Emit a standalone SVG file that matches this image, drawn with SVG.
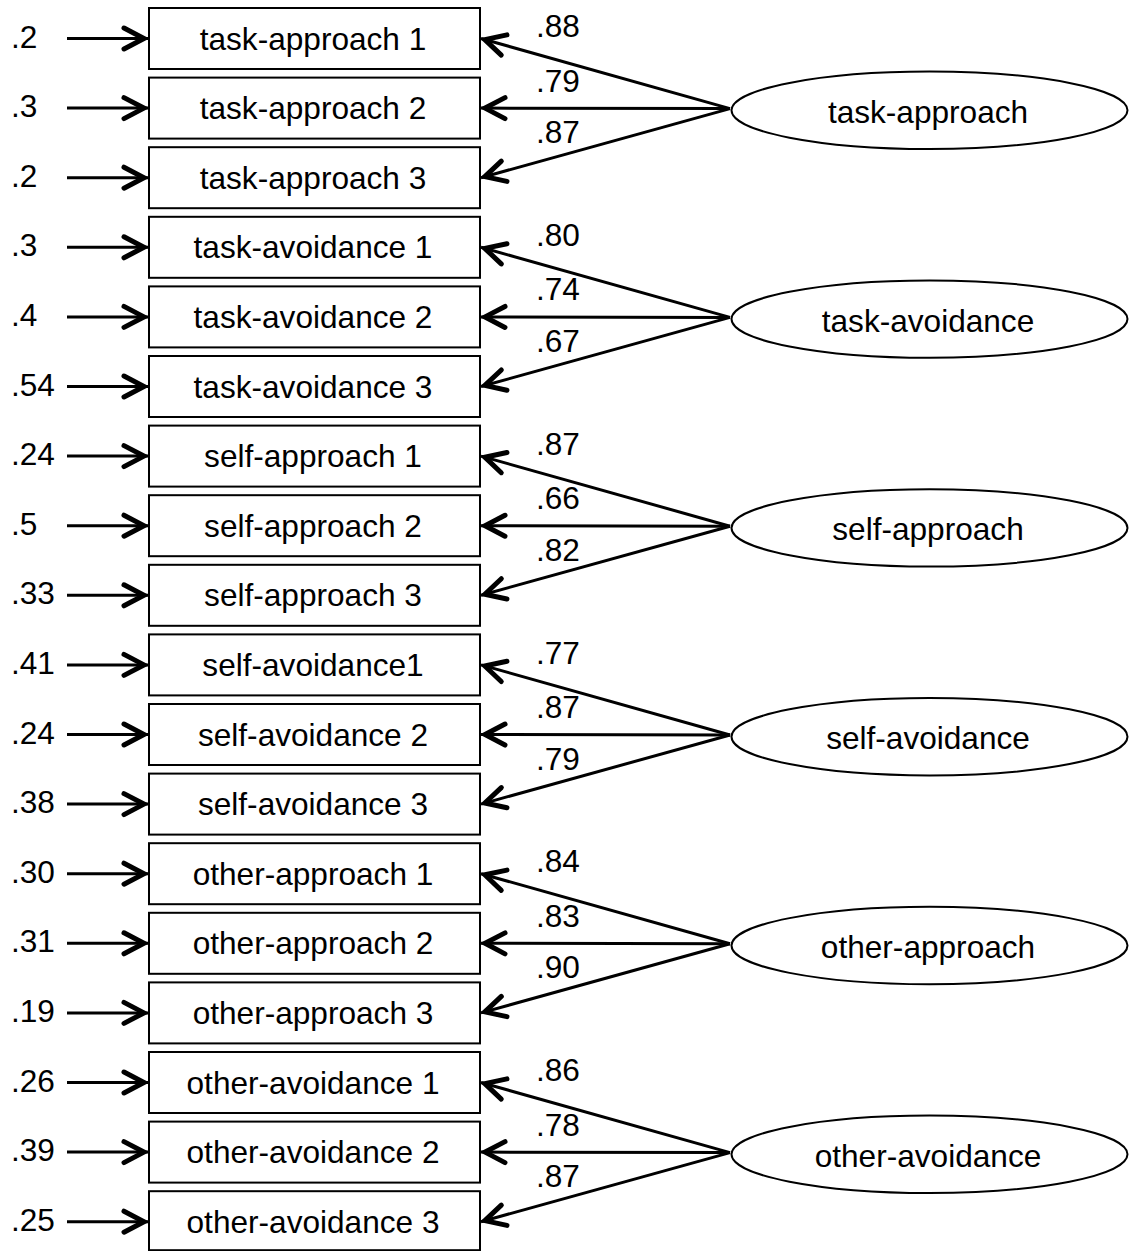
<svg xmlns="http://www.w3.org/2000/svg" width="1130" height="1251" viewBox="0 0 1130 1251">
<defs>
<style>
.box{fill:#fff;stroke:#000;stroke-width:2}
.lat{fill:#fff;stroke:#000;stroke-width:2}
.t{font-family:"Liberation Sans",Arial,sans-serif;font-size:31.6px;fill:#000}
.c{text-anchor:middle}
.conn line{stroke:#000;stroke-width:3;marker-end:url(#ah)}
</style>
<marker id="ah" markerUnits="userSpaceOnUse" viewBox="-26 -16 32 32" refX="4" refY="0" markerWidth="32" markerHeight="32" orient="auto">
<path d="M-20,-10.5 L0,0 L-20,10.5" fill="none" stroke="#000" stroke-width="5" stroke-linecap="round"/>
</marker>
</defs>
<rect width="1130" height="1251" fill="#fff"/>
<g id="connectors" class="conn">
<line x1="67" y1="38.5" x2="148" y2="38.5"/>
<line x1="67" y1="108.1" x2="148" y2="108.1"/>
<line x1="67" y1="177.7" x2="148" y2="177.7"/>
<line x1="67" y1="247.3" x2="148" y2="247.3"/>
<line x1="67" y1="316.9" x2="148" y2="316.9"/>
<line x1="67" y1="386.5" x2="148" y2="386.5"/>
<line x1="67" y1="456.1" x2="148" y2="456.1"/>
<line x1="67" y1="525.7" x2="148" y2="525.7"/>
<line x1="67" y1="595.3" x2="148" y2="595.3"/>
<line x1="67" y1="664.9" x2="148" y2="664.9"/>
<line x1="67" y1="734.5" x2="148" y2="734.5"/>
<line x1="67" y1="804.1" x2="148" y2="804.1"/>
<line x1="67" y1="873.7" x2="148" y2="873.7"/>
<line x1="67" y1="943.3" x2="148" y2="943.3"/>
<line x1="67" y1="1012.9" x2="148" y2="1012.9"/>
<line x1="67" y1="1082.5" x2="148" y2="1082.5"/>
<line x1="67" y1="1152.1" x2="148" y2="1152.1"/>
<line x1="67" y1="1221.7" x2="148" y2="1221.7"/>
<line x1="730" y1="108.6" x2="481" y2="38.5"/>
<line x1="730" y1="108.6" x2="481" y2="108.1"/>
<line x1="730" y1="108.6" x2="481" y2="177.7"/>
<line x1="730" y1="317.4" x2="481" y2="247.3"/>
<line x1="730" y1="317.4" x2="481" y2="316.9"/>
<line x1="730" y1="317.4" x2="481" y2="386.5"/>
<line x1="730" y1="526.2" x2="481" y2="456.1"/>
<line x1="730" y1="526.2" x2="481" y2="525.7"/>
<line x1="730" y1="526.2" x2="481" y2="595.3"/>
<line x1="730" y1="735" x2="481" y2="664.9"/>
<line x1="730" y1="735" x2="481" y2="734.5"/>
<line x1="730" y1="735" x2="481" y2="804.1"/>
<line x1="730" y1="943.8" x2="481" y2="873.7"/>
<line x1="730" y1="943.8" x2="481" y2="943.3"/>
<line x1="730" y1="943.8" x2="481" y2="1012.9"/>
<line x1="730" y1="1152.6" x2="481" y2="1082.5"/>
<line x1="730" y1="1152.6" x2="481" y2="1152.1"/>
<line x1="730" y1="1152.6" x2="481" y2="1221.7"/>
</g>
<g id="error-labels" class="t">
<text x="11" y="47.5">.2</text>
<text x="11" y="117.1">.3</text>
<text x="11" y="186.7">.2</text>
<text x="11" y="256.3">.3</text>
<text x="11" y="325.9">.4</text>
<text x="11" y="395.5">.54</text>
<text x="11" y="465.1">.24</text>
<text x="11" y="534.7">.5</text>
<text x="11" y="604.3">.33</text>
<text x="11" y="673.9">.41</text>
<text x="11" y="743.5">.24</text>
<text x="11" y="813.1">.38</text>
<text x="11" y="882.7">.30</text>
<text x="11" y="952.3">.31</text>
<text x="11" y="1021.9">.19</text>
<text x="11" y="1091.5">.26</text>
<text x="11" y="1161.1">.39</text>
<text x="11" y="1230.7">.25</text>
</g>
<g id="loading-labels" class="t">
<text x="536" y="37.1">.88</text>
<text x="536" y="91.6">.79</text>
<text x="536" y="143.1">.87</text>
<text x="536" y="245.9">.80</text>
<text x="536" y="300.4">.74</text>
<text x="536" y="351.9">.67</text>
<text x="536" y="454.7">.87</text>
<text x="536" y="509.2">.66</text>
<text x="536" y="560.7">.82</text>
<text x="536" y="663.5">.77</text>
<text x="536" y="718">.87</text>
<text x="536" y="769.5">.79</text>
<text x="536" y="872.3">.84</text>
<text x="536" y="926.8">.83</text>
<text x="536" y="978.3">.90</text>
<text x="536" y="1081.1">.86</text>
<text x="536" y="1135.6">.78</text>
<text x="536" y="1187.1">.87</text>
</g>
<g id="ta1"><rect class="box" x="149" y="8" width="331" height="61"/><text class="t c" x="313" y="49.5">task-approach 1</text></g>
<g id="ta2"><rect class="box" x="149" y="77.6" width="331" height="61"/><text class="t c" x="313" y="119.1">task-approach 2</text></g>
<g id="ta3"><rect class="box" x="149" y="147.2" width="331" height="61"/><text class="t c" x="313" y="188.7">task-approach 3</text></g>
<g id="tv1"><rect class="box" x="149" y="216.8" width="331" height="61"/><text class="t c" x="313" y="258.3">task-avoidance 1</text></g>
<g id="tv2"><rect class="box" x="149" y="286.4" width="331" height="61"/><text class="t c" x="313" y="327.9">task-avoidance 2</text></g>
<g id="tv3"><rect class="box" x="149" y="356" width="331" height="61"/><text class="t c" x="313" y="397.5">task-avoidance 3</text></g>
<g id="sa1"><rect class="box" x="149" y="425.6" width="331" height="61"/><text class="t c" x="313" y="467.1">self-approach 1</text></g>
<g id="sa2"><rect class="box" x="149" y="495.2" width="331" height="61"/><text class="t c" x="313" y="536.7">self-approach 2</text></g>
<g id="sa3"><rect class="box" x="149" y="564.8" width="331" height="61"/><text class="t c" x="313" y="606.3">self-approach 3</text></g>
<g id="sv1"><rect class="box" x="149" y="634.4" width="331" height="61"/><text class="t c" x="313" y="675.9">self-avoidance1</text></g>
<g id="sv2"><rect class="box" x="149" y="704" width="331" height="61"/><text class="t c" x="313" y="745.5">self-avoidance 2</text></g>
<g id="sv3"><rect class="box" x="149" y="773.6" width="331" height="61"/><text class="t c" x="313" y="815.1">self-avoidance 3</text></g>
<g id="oa1"><rect class="box" x="149" y="843.2" width="331" height="61"/><text class="t c" x="313" y="884.7">other-approach 1</text></g>
<g id="oa2"><rect class="box" x="149" y="912.8" width="331" height="61"/><text class="t c" x="313" y="954.3">other-approach 2</text></g>
<g id="oa3"><rect class="box" x="149" y="982.4" width="331" height="61"/><text class="t c" x="313" y="1023.9">other-approach 3</text></g>
<g id="ov1"><rect class="box" x="149" y="1052" width="331" height="61"/><text class="t c" x="313" y="1093.5">other-avoidance 1</text></g>
<g id="ov2"><rect class="box" x="149" y="1121.6" width="331" height="61"/><text class="t c" x="313" y="1163.1">other-avoidance 2</text></g>
<g id="ov3"><rect class="box" x="149" y="1191.2" width="331" height="59"/><text class="t c" x="313" y="1232.7">other-avoidance 3</text></g>
<g id="f-task-approach"><ellipse class="lat" cx="929.5" cy="110.3" rx="198" ry="38.7"/><text class="t c" x="928" y="122.8">task-approach</text></g>
<g id="f-task-avoidance"><ellipse class="lat" cx="929.5" cy="319.1" rx="198" ry="38.7"/><text class="t c" x="928" y="331.6">task-avoidance</text></g>
<g id="f-self-approach"><ellipse class="lat" cx="929.5" cy="527.9" rx="198" ry="38.7"/><text class="t c" x="928" y="540.4">self-approach</text></g>
<g id="f-self-avoidance"><ellipse class="lat" cx="929.5" cy="736.7" rx="198" ry="38.7"/><text class="t c" x="928" y="749.2">self-avoidance</text></g>
<g id="f-other-approach"><ellipse class="lat" cx="929.5" cy="945.5" rx="198" ry="38.7"/><text class="t c" x="928" y="958">other-approach</text></g>
<g id="f-other-avoidance"><ellipse class="lat" cx="929.5" cy="1154.3" rx="198" ry="38.7"/><text class="t c" x="928" y="1166.8">other-avoidance</text></g>
</svg>
